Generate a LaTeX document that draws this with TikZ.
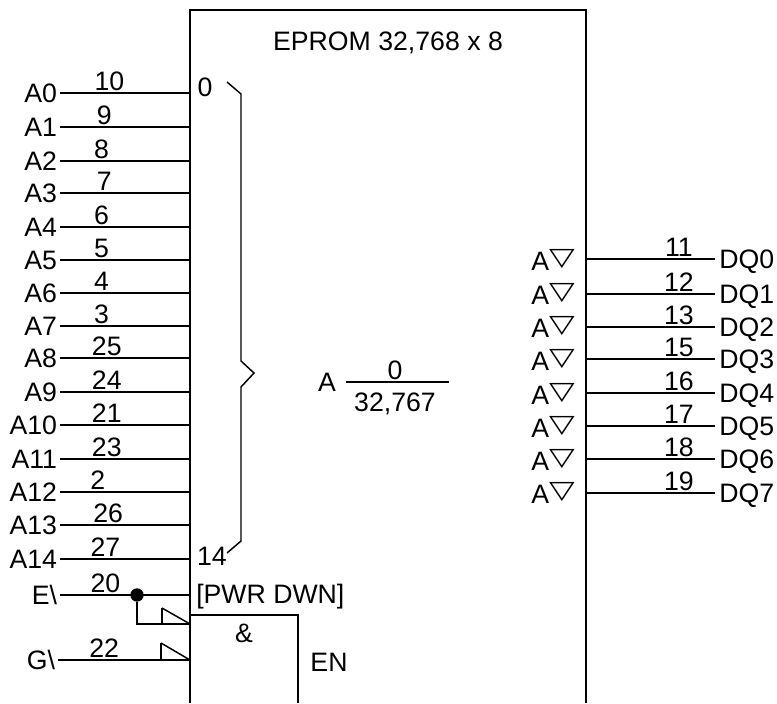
\documentclass[tikz,border=0pt]{standalone}
\usepackage{fontspec}
\setmainfont{Liberation Sans}
\newfontfamily\symfont{DejaVu Sans}
\newcommand{\tridown}{{\symfont\fontsize{25}{25}\selectfont\raisebox{3.5pt}{\scalebox{1}[0.75]{▽}}}}
\tikzset{
  every node/.style={font=\fontsize{20}{22}\selectfont},
  wire/.style={line width=1.1pt},
  pinname/.style={text height=14.4pt,text depth=0pt},
  pinin/.style={pinname,inner sep=2pt,anchor=east},
  pinout/.style={pinname,inner sep=3pt,anchor=west},
  pinnum/.style={above,pos=0.34,inner sep=1.5pt},
  pinnumr/.style={above,pos=0.72,inner sep=1.5pt},
  junction/.style={circle,fill=black,inner sep=0pt,minimum size=10pt},
  driver/.style={text height=14.4pt,text depth=0pt,inner sep=0pt,anchor=west}
}
\begin{document}
\begin{tikzpicture}[x=0.75pt,y=-0.75pt]
    \useasboundingbox (0,0) rectangle (777,703);
    % outer and inner block
    \coordinate (NW) at (190,10);
    \coordinate (NE) at (586,10);
    \coordinate (SW) at (190,703);
    \coordinate (SE) at (586,703);
    \coordinate (andNW) at (190,615);
    \coordinate (andNE) at (298,615);
    \coordinate (andSE) at (298,703);
    \draw[wire] (SW) -- (NW) -- (NE) -- (SE);
    \draw[wire] (andNW) -- (andNE) -- (andSE);
    \node (title) at (388,43) {EPROM 32,768 x 8};
    % address inputs
    \node[pinin] (A0) at (60,93) {A0};
    \node[pinin] (A1) at (60,127) {A1};
    \node[pinin] (A2) at (60,161) {A2};
    \node[pinin] (A3) at (60,193) {A3};
    \node[pinin] (A4) at (60,227) {A4};
    \node[pinin] (A5) at (60,260) {A5};
    \node[pinin] (A6) at (60,293) {A6};
    \node[pinin] (A7) at (60,326) {A7};
    \node[pinin] (A8) at (60,358) {A8};
    \node[pinin] (A9) at (60,392) {A9};
    \node[pinin] (A10) at (60,425) {A10};
    \node[pinin] (A11) at (60,459) {A11};
    \node[pinin] (A12) at (60,492) {A12};
    \node[pinin] (A13) at (60,525) {A13};
    \node[pinin] (A14) at (60,559) {A14};
    \node[pinin] (E) at (60,595) {E\textbackslash};
    \node[pinin] (G) at (58,660) {G\textbackslash};
    \draw[wire] (A0.east) -- node[pinnum,pos=0.38] {10} (A0.east -| NW);
    \draw[wire] (A1.east) -- node[pinnum] {9} (A1.east -| NW);
    \draw[wire] (A2.east) -- node[pinnum,pos=0.32] {8} (A2.east -| NW);
    \draw[wire] (A3.east) -- node[pinnum] {7} (A3.east -| NW);
    \draw[wire] (A4.east) -- node[pinnum,pos=0.32] {6} (A4.east -| NW);
    \draw[wire] (A5.east) -- node[pinnum,pos=0.32] {5} (A5.east -| NW);
    \draw[wire] (A6.east) -- node[pinnum,pos=0.32] {4} (A6.east -| NW);
    \draw[wire] (A7.east) -- node[pinnum,pos=0.32] {3} (A7.east -| NW);
    \draw[wire] (A8.east) -- node[pinnum,pos=0.36] {25} (A8.east -| NW);
    \draw[wire] (A9.east) -- node[pinnum,pos=0.36] {24} (A9.east -| NW);
    \draw[wire] (A10.east) -- node[pinnum,pos=0.36] {21} (A10.east -| NW);
    \draw[wire] (A11.east) -- node[pinnum,pos=0.36] {23} (A11.east -| NW);
    \draw[wire] (A12.east) -- node[pinnum,pos=0.29] {2} (A12.east -| NW);
    \draw[wire] (A13.east) -- node[pinnum,pos=0.37] {26} (A13.east -| NW);
    \draw[wire] (A14.east) -- node[pinnum,pos=0.35] {27} (A14.east -| NW);
    \draw[wire] (E.east) -- node[pinnum,pos=0.35] {20} (E.east -| NW);
    \draw[wire] (G.east) -- node[pinnum,pos=0.35] {22} (G.east -| NW);
    % enable wiring
    \node[junction] (Edot) at (137,595) {};
    \coordinate (Ein) at (190,624);
    \coordinate (Etip) at (162,608);
    \coordinate (Gtip) at (161,643);
    \draw[wire] (Edot) |- (Ein);
    \draw[wire] (Etip) -- (Etip |- Ein);
    \draw[wire] (Etip) -- (Ein);
    \draw[wire] (Gtip) -- (Gtip |- G.east);
    \draw[wire] (Gtip) -- (G.east -| NW);
    \node[anchor=west,inner sep=0pt] (pwr) at (196,597) {[PWR DWN]};
    \node (and) at (244,633) {\&};
    \node (en) at (329,662) {EN};
    % address bus brace
    \node (first) at (205,87) {0};
    \node (last) at (212,556) {14};
    \draw[wire] (227,82) -- (241,94) -- (241,361) -- (254,373) -- (241,387) -- (241,541) -- (227,553);
    \node (addr) at (327,382) {A};
    \coordinate (fracL) at (346,382);
    \coordinate (fracR) at (449,382);
    \draw[wire] (fracL) -- (fracR);
    \node (low) at (395,370) {0};
    \node (high) at (395,404) {32,767};
    % data outputs
    \node[pinout] (DQ0) at (715,259) {DQ0};
    \node[pinout] (DQ1) at (715,294) {DQ1};
    \node[pinout] (DQ2) at (715,327) {DQ2};
    \node[pinout] (DQ3) at (715,359) {DQ3};
    \node[pinout] (DQ4) at (715,393) {DQ4};
    \node[pinout] (DQ5) at (715,426) {DQ5};
    \node[pinout] (DQ6) at (715,459) {DQ6};
    \node[pinout] (DQ7) at (715,493) {DQ7};
    \draw[wire] (DQ0.west -| NE) -- node[pinnumr] {11} (DQ0.west);
    \draw[wire] (DQ1.west -| NE) -- node[pinnumr] {12} (DQ1.west);
    \draw[wire] (DQ2.west -| NE) -- node[pinnumr] {13} (DQ2.west);
    \draw[wire] (DQ3.west -| NE) -- node[pinnumr] {15} (DQ3.west);
    \draw[wire] (DQ4.west -| NE) -- node[pinnumr] {16} (DQ4.west);
    \draw[wire] (DQ5.west -| NE) -- node[pinnumr] {17} (DQ5.west);
    \draw[wire] (DQ6.west -| NE) -- node[pinnumr] {18} (DQ6.west);
    \draw[wire] (DQ7.west -| NE) -- node[pinnumr] {19} (DQ7.west);
    \node[driver] (Q0) at (531,261) {A\tridown};
    \node[driver] (Q1) at (531,295) {A\tridown};
    \node[driver] (Q2) at (531,328) {A\tridown};
    \node[driver] (Q3) at (531,361) {A\tridown};
    \node[driver] (Q4) at (531,395) {A\tridown};
    \node[driver] (Q5) at (531,428) {A\tridown};
    \node[driver] (Q6) at (531,461) {A\tridown};
    \node[driver] (Q7) at (531,494) {A\tridown};
\end{tikzpicture}
\end{document}
